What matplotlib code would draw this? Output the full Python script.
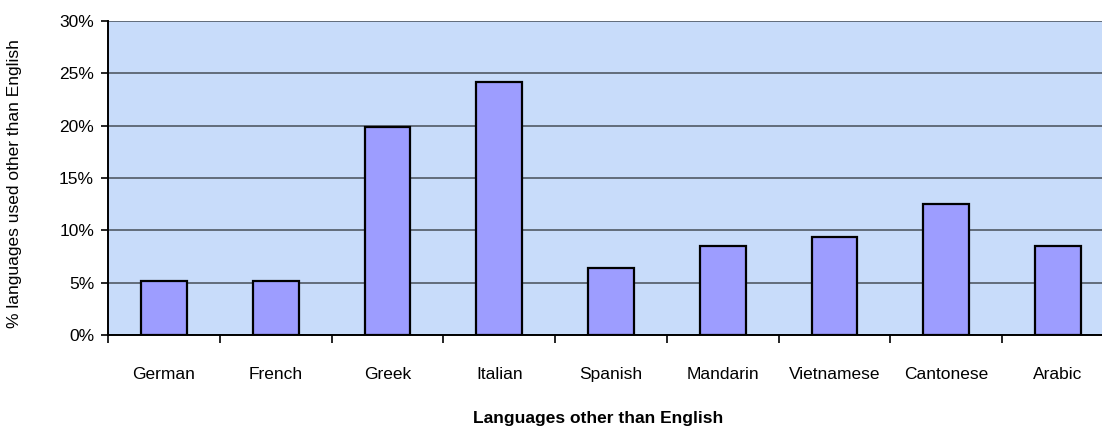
import matplotlib
matplotlib.use("Agg")
import matplotlib.pyplot as plt
from matplotlib.ticker import FuncFormatter

categories = ["German", "French", "Greek", "Italian", "Spanish", "Mandarin",
              "Vietnamese", "Cantonese", "Arabic"]
values = [5.2, 5.2, 19.9, 24.2, 6.4, 8.5, 9.4, 12.5, 8.5]
yticks = [0, 5, 10, 15, 20, 25, 30]

plt.rcParams['font.family'] = ['Liberation Sans', 'DejaVu Sans']

W, H = 1102, 429
fig = plt.figure(figsize=(W / 100, H / 100), dpi=100)
left, right, top, bottom = 108, 1114, 21, 335
ax = fig.add_axes([left / W, (H - bottom) / H, (right - left) / W, (bottom - top) / H])
ax.set_facecolor('#C8DCFA')

x = list(range(len(categories)))
ax.bar(x, values, width=0.41, color='#9D9DFF', edgecolor='black', linewidth=1.6, zorder=3)

ax.set_xlim(-0.5, len(categories) - 0.5)
ax.set_ylim(0, 30)
ax.set_yticks(yticks)
ax.yaxis.set_major_formatter(FuncFormatter(lambda v, p: f"{int(v)}%"))
ax.grid(axis='y', color='#5A6470', linewidth=1.3, zorder=1)
ax.set_axisbelow(True)

ax.set_xticks([i - 0.5 for i in range(len(categories))], minor=False)
ax.set_xticklabels([])
ax.set_xticks(x, minor=True)
ax.set_xticklabels(categories, minor=True, fontsize=12.5)
ax.tick_params(axis='x', which='minor', length=0, pad=23)
ax.tick_params(axis='x', which='major', length=6, width=1.2, direction='out')
ax.tick_params(axis='y', length=5, width=1.2, labelsize=12.5, pad=5)

for s in ['top', 'right']:
    ax.spines[s].set_visible(False)
ax.spines['left'].set_linewidth(1.4)
ax.spines['bottom'].set_linewidth(1.4)

fig.text(598 / W, (H - 419) / H, "Languages other than English", fontsize=12.5,
         fontweight='bold', ha='center', va='center')
fig.text(15 / W, (H - 184) / H, "% languages used other than English", fontsize=12.5,
         rotation=90, ha='center', va='center')

fig.savefig("out.png", dpi=100)
